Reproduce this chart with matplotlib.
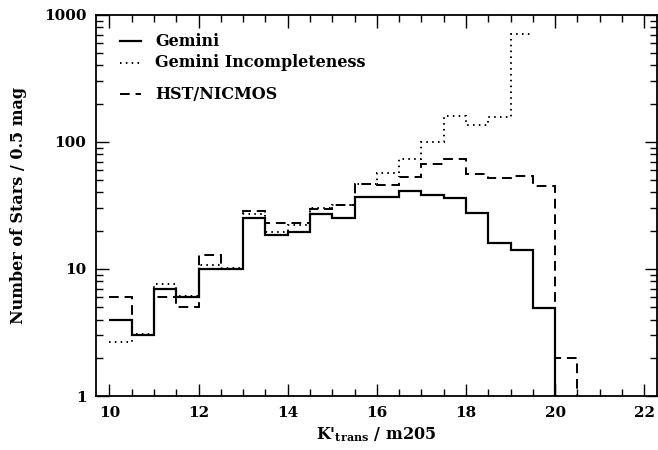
# Histograma de conteos de estrellas: Gemini vs HST/NICMOS
import numpy as np
import matplotlib
matplotlib.use('Agg')
import matplotlib.pyplot as plt
from matplotlib.ticker import MultipleLocator, LogLocator, FixedFormatter, FixedLocator

# --------------------------
# Datos (bins de 0.5 mag)
# --------------------------
bordes_gemini = np.arange(10.0, 20.51, 0.5)
gemini = [4, 3, 7, 6, 10, 10, 25, 18.5, 19.7, 27, 25, 36.7, 36.7, 41, 38, 36.4, 27.5, 16, 14, 4.9, 0]

bordes_incompl = np.arange(10.0, 19.51, 0.5)
gemini_incompl = [2.65, 3.1, 7.6, 6.1, 10.7, 10.2, 27, 19.7, 22, 30, 32, 47, 57, 73, 100, 160, 136, 158, 705]

bordes_hst = np.arange(10.0, 21.01, 0.5)
hst = [6, 3, 6, 5, 12.9, 10, 28.6, 22.9, 22.9, 29.7, 31.9, 46.7, 46, 53.3, 67, 73, 56, 51.8, 54.3, 45.3, 2, 0]

etiquetas_y = ['1', '10', '100', '1000']

plt.rcParams['font.family'] = 'DejaVu Serif'
plt.rcParams['font.weight'] = 'bold'
plt.rcParams['mathtext.fontset'] = 'dejavuserif'


def log_seguro(valores):
    # los bins vacíos se mandan debajo del eje para que la línea caiga al borde
    v = np.asarray(valores, dtype=float)
    return np.where(v > 0, v, 1e-3)


fig = plt.figure(figsize=(6.58, 4.5), dpi=100)
ax = fig.add_axes([0.146, 0.12, 0.852, 0.847])

ax.stairs(log_seguro(gemini), bordes_gemini, baseline=None, color='black', linewidth=1.6)
ax.stairs(log_seguro(gemini_incompl), bordes_incompl, baseline=None, color='black',
          linewidth=1.4, linestyle=(0, (0.8, 2.2)))
ax.stairs(log_seguro(hst), bordes_hst, baseline=None, color='black',
          linewidth=1.4, linestyle=(0, (5, 3)))

ax.set_yscale('log')
ax.set_xlim(9.7, 22.28)
ax.set_ylim(1, 1000)

ax.xaxis.set_major_locator(MultipleLocator(2))
ax.xaxis.set_minor_locator(MultipleLocator(0.5))
ax.yaxis.set_major_locator(FixedLocator([1, 10, 100, 1000]))
ax.yaxis.set_major_formatter(FixedFormatter(etiquetas_y))
ax.yaxis.set_minor_locator(LogLocator(base=10, subs=np.arange(2, 10)))
ax.yaxis.set_minor_formatter(plt.NullFormatter())

ax.tick_params(which='both', direction='in', top=True, right=True, width=1.0,
               labelsize=11, pad=7)
ax.tick_params(which='major', length=9)
ax.tick_params(which='minor', length=5)
for s in ax.spines.values():
    s.set_linewidth(1.3)

ax.set_xlabel("K'$_{\\bf trans}$ / m205", fontsize=11.5, fontweight='bold', labelpad=4)
ax.set_ylabel('Number of Stars / 0.5 mag', fontsize=11.5, fontweight='bold', labelpad=12)

# leyenda manual (espaciado irregular como el original)
leyenda = [('Gemini', '-', 1.6, 0.931),
           ('Gemini Incompleteness', (0, (0.8, 2.2)), 1.4, 0.874),
           ('HST/NICMOS', (0, (5, 3)), 1.4, 0.792)]
for texto, estilo, ancho, yy in leyenda:
    ax.plot([0.042, 0.080], [yy, yy], transform=ax.transAxes, color='black',
            linestyle=estilo, linewidth=ancho)
    ax.text(0.105, yy, texto, transform=ax.transAxes, fontsize=11.5,
            fontweight='bold', va='center', ha='left')

fig.savefig('out.png', dpi=100)
